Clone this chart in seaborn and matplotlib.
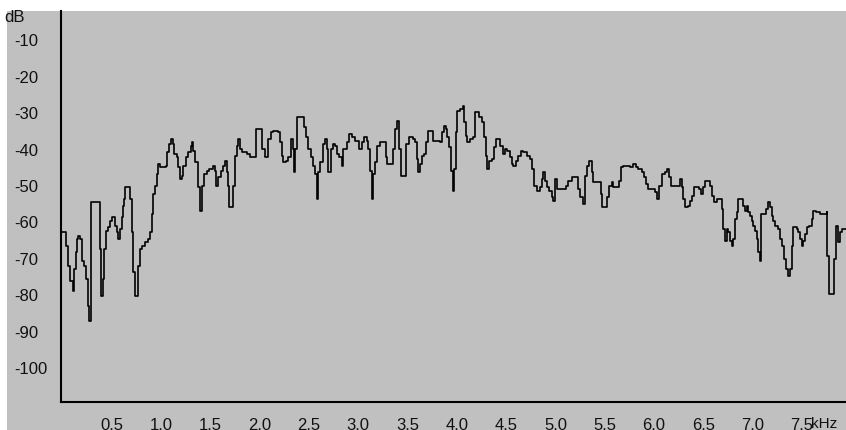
import matplotlib
matplotlib.use("Agg")
import matplotlib.pyplot as plt
import seaborn as sns
import pandas as pd
from matplotlib.ticker import FixedLocator, MultipleLocator
from matplotlib.patches import Rectangle

# Spectrum trace: frequency (kHz) and level (dB)
freq_khz = [
    0.00, 0.035, 0.035, 0.056, 0.056, 0.076, 0.076, 0.106, 0.117, 0.137,
    0.147, 0.157, 0.177, 0.198, 0.218, 0.238, 0.259, 0.269, 0.279, 0.289,
    0.380, 0.380, 0.390, 0.411, 0.421, 0.441, 0.462, 0.482, 0.502, 0.532,
    0.552, 0.563, 0.583, 0.603, 0.613, 0.624, 0.634, 0.674, 0.685, 0.705,
    0.715, 0.735, 0.745, 0.766, 0.786, 0.806, 0.837, 0.867, 0.887, 0.908,
    0.918, 0.938, 0.958, 0.969, 0.989, 1.050, 1.060, 1.080, 1.100, 1.121,
    1.131, 1.161, 1.171, 1.192, 1.212, 1.222, 1.252, 1.273, 1.303, 1.313,
    1.323, 1.344, 1.374, 1.394, 1.415, 1.435, 1.465, 1.486, 1.526, 1.547,
    1.557, 1.577, 1.607, 1.628, 1.648, 1.668, 1.678, 1.689, 1.729, 1.729,
    1.750, 1.770, 1.780, 1.800, 1.820, 1.871, 1.902, 1.942, 1.962, 1.993,
    2.023, 2.054, 2.084, 2.115, 2.135, 2.186, 2.206, 2.226, 2.236, 2.267,
    2.287, 2.318, 2.338, 2.348, 2.358, 2.378, 2.429, 2.449, 2.470, 2.490,
    2.520, 2.541, 2.561, 2.581, 2.591, 2.612, 2.642, 2.662, 2.683, 2.693,
    2.723, 2.744, 2.764, 2.784, 2.804, 2.835, 2.845, 2.885, 2.906, 2.936,
    2.967, 3.007, 3.038, 3.058, 3.088, 3.098, 3.119, 3.139, 3.149, 3.169,
    3.190, 3.220, 3.250, 3.281, 3.291, 3.342, 3.352, 3.372, 3.392, 3.413,
    3.433, 3.474, 3.484, 3.514, 3.555, 3.575, 3.595, 3.605, 3.626, 3.646,
    3.666, 3.686, 3.707, 3.747, 3.757, 3.828, 3.849, 3.869, 3.889, 3.899,
    3.920, 3.940, 3.960, 3.970, 3.991, 4.001, 4.031, 4.062, 4.072, 4.092,
    4.102, 4.133, 4.163, 4.183, 4.204, 4.224, 4.254, 4.275, 4.295, 4.305,
    4.325, 4.356, 4.376, 4.396, 4.417, 4.437, 4.467, 4.488, 4.508, 4.538,
    4.559, 4.569, 4.599, 4.620, 4.650, 4.670, 4.711, 4.741, 4.761, 4.782,
    4.812, 4.842, 4.863, 4.873, 4.893, 4.914, 4.934, 4.964, 4.975, 4.995,
    5.015, 5.076, 5.106, 5.127, 5.167, 5.218, 5.228, 5.248, 5.269, 5.279,
    5.299, 5.320, 5.340, 5.370, 5.381, 5.431, 5.462, 5.472, 5.512, 5.523,
    5.543, 5.573, 5.584, 5.624, 5.645, 5.665, 5.685, 5.756, 5.787, 5.817,
    5.837, 5.878, 5.898, 5.918, 5.939, 5.989, 6.010, 6.030, 6.050, 6.081,
    6.111, 6.132, 6.152, 6.172, 6.243, 6.263, 6.284, 6.294, 6.314, 6.345,
    6.365, 6.385, 6.406, 6.436, 6.456, 6.477, 6.497, 6.517, 6.548, 6.568,
    6.588, 6.609, 6.639, 6.659, 6.690, 6.700, 6.720, 6.740, 6.751, 6.771,
    6.791, 6.801, 6.822, 6.842, 6.852, 6.893, 6.903, 6.923, 6.943, 6.953,
    6.974, 6.994, 7.004, 7.024, 7.045, 7.055, 7.075, 7.085, 7.106, 7.136,
    7.156, 7.177, 7.197, 7.207, 7.227, 7.258, 7.278, 7.298, 7.319, 7.339,
    7.359, 7.380, 7.400, 7.410, 7.450, 7.461, 7.481, 7.501, 7.511, 7.531,
    7.552, 7.572, 7.602, 7.612, 7.643, 7.683, 7.754, 7.754, 7.774, 7.815,
    7.825, 7.845, 7.866, 7.886, 7.906, 7.947,
]
level_db = [
    -62.9, -62.9, -66.7, -66.7, -72.2, -72.2, -76.3, -79.1, -73.0, -68.4,
    -64.8, -64.0, -64.8, -70.8, -72.2, -75.8, -83.2, -87.3, -87.3, -54.6,
    -54.6, -67.6, -80.5, -75.8, -67.6, -62.6, -61.5, -59.9, -58.8, -61.2,
    -62.9, -64.8, -62.1, -58.8, -55.7, -53.8, -50.5, -50.5, -53.8, -62.9,
    -73.9, -80.5, -80.5, -72.2, -67.6, -66.7, -65.6, -64.8, -62.9, -57.9,
    -52.4, -50.2, -47.0, -44.2, -45.0, -44.7, -40.9, -38.7, -37.3, -38.7,
    -41.5, -42.3, -45.0, -48.3, -47.5, -44.7, -42.3, -40.9, -39.3, -38.2,
    -40.6, -43.7, -50.5, -57.1, -50.2, -47.0, -46.1, -45.6, -44.7, -46.1,
    -50.2, -47.8, -46.1, -44.7, -43.4, -46.4, -50.2, -56.0, -56.0, -50.2,
    -42.0, -39.3, -37.3, -40.1, -40.9, -41.5, -42.3, -42.3, -34.6, -34.6,
    -40.1, -42.3, -37.3, -35.4, -35.1, -35.4, -38.2, -42.0, -43.7, -43.4,
    -42.3, -37.3, -40.1, -46.4, -40.1, -31.3, -31.3, -34.0, -36.8, -40.1,
    -42.3, -44.7, -47.0, -53.8, -46.4, -43.7, -38.7, -37.3, -40.1, -46.4,
    -40.1, -38.7, -39.3, -41.5, -42.3, -44.7, -40.1, -38.2, -36.0, -36.8,
    -37.9, -40.1, -38.2, -36.8, -37.9, -40.1, -46.1, -53.8, -47.0, -43.7,
    -39.3, -38.2, -38.2, -42.3, -44.2, -44.2, -40.1, -34.6, -32.4, -40.1,
    -47.5, -47.5, -38.7, -36.8, -37.3, -38.2, -42.8, -46.4, -44.2, -42.0,
    -41.5, -38.2, -35.1, -35.1, -37.9, -38.2, -35.4, -33.8, -34.6, -36.8,
    -39.5, -46.1, -51.6, -45.6, -35.4, -29.6, -29.1, -28.3, -32.7, -36.5,
    -38.2, -37.3, -36.8, -29.9, -29.9, -31.3, -32.7, -36.8, -42.0, -45.6,
    -43.4, -42.8, -39.5, -37.3, -37.3, -39.3, -41.5, -40.1, -40.6, -42.3,
    -44.2, -44.7, -43.4, -42.0, -40.6, -40.9, -42.0, -42.8, -45.6, -50.2,
    -51.6, -50.5, -48.3, -46.4, -48.9, -50.5, -51.6, -53.3, -54.4, -48.3,
    -51.1, -51.1, -50.2, -48.9, -47.8, -47.8, -51.1, -53.3, -53.3, -55.2,
    -47.5, -44.7, -43.4, -46.4, -49.1, -49.1, -52.4, -56.0, -56.0, -53.3,
    -50.2, -49.1, -50.5, -50.5, -48.9, -45.0, -44.7, -45.0, -44.2, -45.0,
    -45.6, -46.4, -47.8, -49.7, -51.1, -51.1, -51.9, -53.8, -50.2, -47.0,
    -46.4, -45.6, -47.8, -50.2, -50.2, -48.3, -50.5, -53.8, -56.0, -55.7,
    -54.4, -53.0, -50.5, -50.5, -51.1, -52.4, -50.5, -48.9, -48.9, -50.2,
    -53.0, -54.6, -53.8, -53.8, -56.6, -62.1, -65.4, -62.1, -62.9, -65.4,
    -66.7, -64.8, -59.3, -57.4, -53.8, -53.8, -55.7, -57.1, -55.7, -57.4,
    -58.5, -59.9, -61.2, -62.6, -64.8, -68.4, -70.8, -57.9, -57.9, -56.6,
    -54.6, -56.0, -58.5, -59.9, -61.2, -62.1, -64.8, -66.7, -70.3, -73.0,
    -75.0, -73.0, -66.7, -61.5, -62.1, -62.9, -64.8, -66.7, -65.4, -63.4,
    -61.5, -61.2, -59.3, -57.1, -57.4, -57.9, -57.4, -69.5, -79.9, -79.9,
    -70.3, -61.2, -65.6, -62.9, -62.1, -62.1,
]

x_ticks = [0.5, 1.0, 1.5, 2.0, 2.5, 3.0, 3.5, 4.0, 4.5, 5.0, 5.5, 6.0, 6.5, 7.0, 7.5]
x_tick_labels = ["0.5", "1.0", "1.5", "2.0", "2.5", "3.0", "3.5", "4.0",
                 "4.5", "5.0", "5.5", "6.0", "6.5", "7.0", "7.5"]
y_ticks = [-10, -20, -30, -40, -50, -60, -70, -80, -90, -100]
y_tick_labels = ["-10", "-20", "-30", "-40", "-50", "-60", "-70", "-80", "-90", "-100"]

sns.set_theme(style="white")
plt.rcParams["font.family"] = ["Liberation Sans", "DejaVu Sans"]

GRAY = "#c0c0c0"
W, H = 846, 431
fig = plt.figure(figsize=(W / 100, H / 100), dpi=100, facecolor="white")
fig.patches.append(Rectangle((7 / W, 0), 1 - 7 / W, (H - 12) / H,
                             transform=fig.transFigure, facecolor=GRAY,
                             edgecolor="none", zorder=-1))

ax = fig.add_axes([61 / W, (H - 403) / H, (W - 61) / W, (403 - 12) / H])
ax.set_facecolor(GRAY)

df = pd.DataFrame({"freq": freq_khz, "level": level_db})
sns.lineplot(data=df, x="freq", y="level", sort=False, estimator=None,
             color="black", linewidth=1.2, drawstyle="steps-post", ax=ax)

ax.set_xlim(-0.015, 7.947)
ax.set_ylim(-109.6, -2.2)
ax.set_xlabel("")
ax.set_ylabel("")

for side in ("top", "right"):
    ax.spines[side].set_visible(False)
for side in ("left", "bottom"):
    ax.spines[side].set_color("black")
    ax.spines[side].set_linewidth(1.5)

ax.xaxis.set_major_locator(FixedLocator(x_ticks))
ax.set_xticklabels(x_tick_labels)
ax.xaxis.set_minor_locator(MultipleLocator(0.1))
ax.tick_params(axis="x", which="major", direction="out", length=6.5, width=1.1,
               color="black", labelsize=12, labelcolor="#111111", pad=4)
ax.tick_params(axis="x", which="minor", direction="out", length=3.3, width=1.1,
               color="black")

ax.set_yticks(y_ticks)
ax.set_yticklabels(y_tick_labels)
ax.tick_params(axis="y", which="both", length=0, labelsize=12,
               labelcolor="#111111", pad=34)
for lbl in ax.get_yticklabels():
    lbl.set_horizontalalignment("left")

ax.annotate("kHz", xy=(7.5, 0), xycoords=("data", "axes fraction"),
            xytext=(6.5, -10.0), textcoords="offset points",
            ha="left", va="top", fontsize=11, color="#111111",
            annotation_clip=False)
fig.text(4 / W, 1 - 17 / H, "dB", ha="left", va="center",
         fontsize=12, color="#111111")

fig.savefig("out.png", dpi=100, facecolor="white")
